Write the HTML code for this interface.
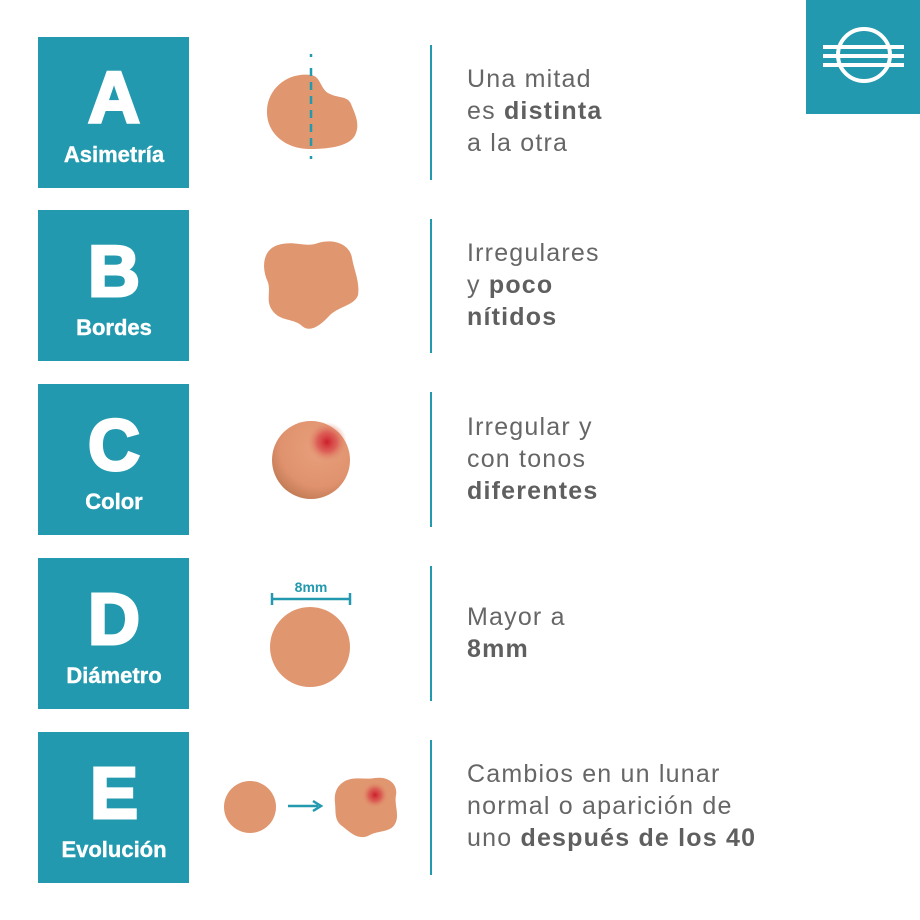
<!DOCTYPE html>
<html><head><meta charset="utf-8"><style>
html,body{margin:0;padding:0;background:#fff;width:920px;height:920px;overflow:hidden}
svg{display:block}
.L{font-family:"Liberation Sans",sans-serif;font-weight:bold;fill:#fff;text-anchor:middle}
.T{font-family:"Liberation Sans",sans-serif;font-size:25px;fill:#666;letter-spacing:1.2px}
.T tspan.b{font-weight:bold;fill:#5f5f5f}
</style></head><body>
<svg width="920" height="920" viewBox="0 0 920 920" xmlns="http://www.w3.org/2000/svg">
<defs>
<radialGradient id="cg" cx="0.6" cy="0.35" r="0.7">
<stop offset="0" stop-color="#e8a07c"/><stop offset="0.7" stop-color="#e0926e"/><stop offset="1" stop-color="#c07a54"/>
</radialGradient>
<radialGradient id="red" cx="0.5" cy="0.5" r="0.5">
<stop offset="0" stop-color="#cc1e2a"/><stop offset="0.5" stop-color="#d9484a" stop-opacity="0.7"/><stop offset="1" stop-color="#e0926e" stop-opacity="0"/>
</radialGradient>
</defs>
<rect x="806" y="0" width="114" height="114" fill="#2299ae"/>
<circle cx="864" cy="55" r="26" fill="none" stroke="#fff" stroke-width="4"/>
<rect x="823" y="45" width="81" height="4" fill="#fff"/>
<rect x="823" y="54" width="81" height="4" fill="#fff"/>
<rect x="823" y="63" width="81" height="4" fill="#fff"/>
<g fill="#2299ae">
<rect x="38" y="37" width="151" height="151"/>
<rect x="38" y="210" width="151" height="151"/>
<rect x="38" y="384" width="151" height="151"/>
<rect x="38" y="558" width="151" height="151"/>
<rect x="38" y="732" width="151" height="151"/>
</g>
<g class="L" stroke="#fff">
<text x="114" y="122" font-size="72" stroke-width="3">A</text><text x="114" y="162" font-size="22" stroke-width="0.4">Asimetría</text>
<text x="114" y="296" font-size="72" stroke-width="3">B</text><text x="114" y="335" font-size="22" stroke-width="0.4">Bordes</text>
<text x="114" y="470" font-size="72" stroke-width="3">C</text><text x="114" y="509" font-size="22" stroke-width="0.4">Color</text>
<text x="114" y="644" font-size="72" stroke-width="3">D</text><text x="114" y="683" font-size="22" stroke-width="0.4">Diámetro</text>
<text x="114" y="818" font-size="72" stroke-width="3">E</text><text x="114" y="857" font-size="22" stroke-width="0.4">Evolución</text>
</g>
<g stroke="#2299ae" stroke-width="2">
<line x1="431" y1="45" x2="431" y2="180"/>
<line x1="431" y1="219" x2="431" y2="353"/>
<line x1="431" y1="392" x2="431" y2="527"/>
<line x1="431" y1="566" x2="431" y2="701"/>
<line x1="431" y1="740" x2="431" y2="875"/>
</g>
<path d="M311 75 C288 72 268 88 267 110 C266 133 285 149 310 149 C330 149 352 146 356 133 C360 122 354 112 351 104 C348 96 338 98 330 94 C320 90 321 76 311 75 Z" fill="#e0966f"/>
<line x1="311" y1="54" x2="311" y2="170" stroke="#2299ae" stroke-width="2.5" stroke-dasharray="3,11,8,6,8,6,8,6,8,6,8,6,8,10,3,100"/>
<path d="M278 245 C295 240 305 248 318 243 C335 238 350 245 352 258 C354 270 360 282 358 295 C355 305 340 306 330 315 C320 326 310 333 302 326 C294 318 280 322 272 310 C265 300 272 290 267 280 C262 268 262 250 278 245 Z" fill="#e0966f"/>
<circle cx="311" cy="460" r="39" fill="url(#cg)"/>
<circle cx="327" cy="442" r="20" fill="url(#red)"/>
<text x="311" y="592" font-family="Liberation Sans,sans-serif" font-weight="bold" font-size="14" fill="#2299ae" text-anchor="middle">8mm</text>
<g stroke="#2299ae" stroke-width="2.5"><line x1="272" y1="599" x2="350" y2="599"/><line x1="272" y1="593" x2="272" y2="605"/><line x1="350" y1="593" x2="350" y2="605"/></g>
<circle cx="310" cy="647" r="40" fill="#e0966f"/>
<circle cx="250" cy="807" r="26" fill="#e0966f"/>
<line x1="288" y1="806" x2="318" y2="806" stroke="#2299ae" stroke-width="2.5"/>
<path d="M313 801 L321 806 L313 811" fill="none" stroke="#2299ae" stroke-width="2.5"/>
<path d="M345 781 C355 776 365 780 375 778 C388 776 398 784 396 795 C394 805 400 815 395 824 C390 833 378 830 368 836 C357 840 350 832 342 826 C334 820 336 812 335 803 C334 794 336 786 345 781 Z" fill="#e0966f"/>
<circle cx="375" cy="795" r="13" fill="url(#red)"/>
<text class="T"><tspan x="467" y="87">Una mitad</tspan><tspan x="467" y="119">es <tspan class="b">distinta</tspan></tspan><tspan x="467" y="151">a la otra</tspan></text>
<text class="T"><tspan x="467" y="261">Irregulares</tspan><tspan x="467" y="293">y <tspan class="b">poco</tspan></tspan><tspan x="467" y="325" class="b">nítidos</tspan></text>
<text class="T"><tspan x="467" y="435">Irregular y</tspan><tspan x="467" y="467">con tonos</tspan><tspan x="467" y="499" class="b">diferentes</tspan></text>
<text class="T"><tspan x="467" y="625">Mayor a</tspan><tspan x="467" y="657" class="b">8mm</tspan></text>
<text class="T"><tspan x="467" y="782">Cambios en un lunar</tspan><tspan x="467" y="814">normal o aparición de</tspan><tspan x="467" y="846">uno <tspan class="b">después de los 40</tspan></tspan></text>
</svg>
</body></html>
